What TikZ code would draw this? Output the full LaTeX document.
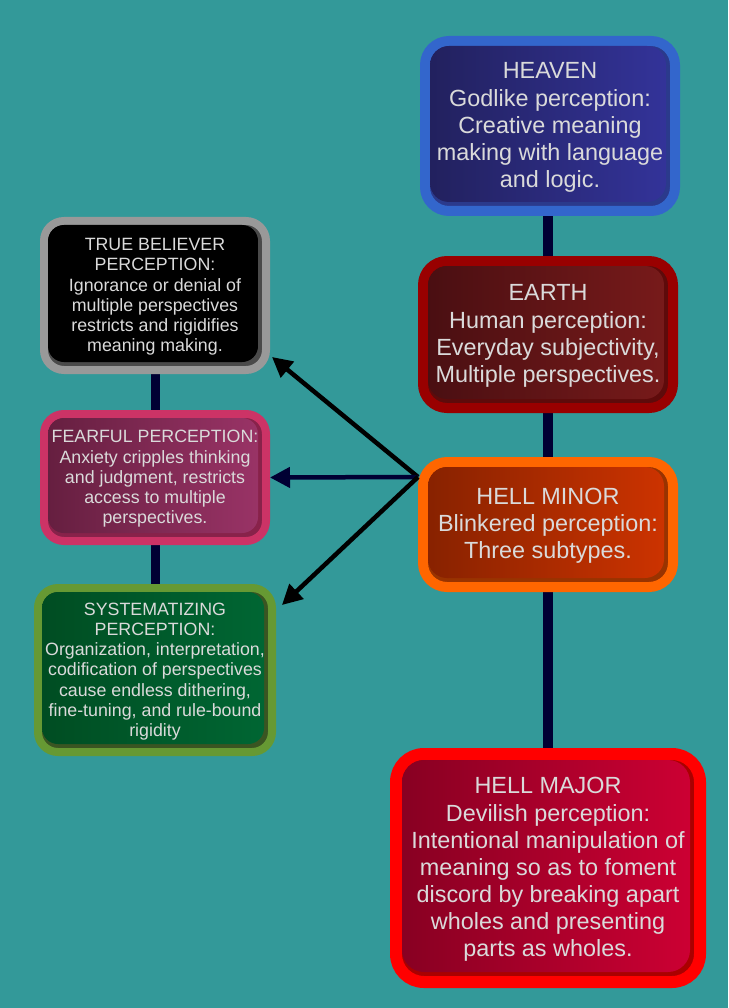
\documentclass[tikz,border=0pt]{standalone}
\usepackage{fontspec}
\setmainfont{Liberation Sans}
\usetikzlibrary{arrows.meta,calc}
\definecolor{bgteal}{HTML}{339999}
\definecolor{txt}{HTML}{DADADA}
\definecolor{navy}{HTML}{000033}
\definecolor{hvB}{HTML}{3366CC}\definecolor{hvL}{HTML}{22215E}\definecolor{hvR}{HTML}{333399}\definecolor{hvS}{HTML}{2B3A8C}
\definecolor{eaB}{HTML}{990000}\definecolor{eaL}{HTML}{4A0F12}\definecolor{eaR}{HTML}{771A1A}\definecolor{eaS}{HTML}{5E0B0B}
\definecolor{hmB}{HTML}{FF6600}\definecolor{hmL}{HTML}{882200}\definecolor{hmR}{HTML}{CC3300}\definecolor{hmS}{HTML}{993300}
\definecolor{hjB}{HTML}{FF0000}\definecolor{hjL}{HTML}{880022}\definecolor{hjR}{HTML}{CC0033}\definecolor{hjS}{HTML}{AA0000}
\definecolor{tbB}{HTML}{999999}\definecolor{tbL}{HTML}{000000}\definecolor{tbR}{HTML}{000000}\definecolor{tbS}{HTML}{4A4A4A}
\definecolor{ffB}{HTML}{CC3366}\definecolor{ffL}{HTML}{661F40}\definecolor{ffR}{HTML}{993366}\definecolor{ffS}{HTML}{88224A}
\definecolor{syB}{HTML}{669933}\definecolor{syL}{HTML}{004D22}\definecolor{syR}{HTML}{006633}\definecolor{syS}{HTML}{3A5522}
\pgfdeclarelayer{bg}
\pgfdeclarelayer{lines}
\pgfsetlayers{bg,lines,main}
% #1 name, #2 center, #3 width, #4 height, #5 line width, #6 radius, #7 colour prefix, #8 font, #9 text
\newcommand\pbox[9]{%
  \node[draw=#7B, line width=#5, fill=#7S, minimum width=#3, minimum height=#4,
        rounded corners=#6, inner sep=0pt] (#1) at #2 {};
  \node[left color=#7L, right color=#7R, minimum width=#3-#5-4, minimum height=#4-#5-4,
        rounded corners=#6-#5/2, inner sep=0pt] (#1-in) at ($#2+(-2,-2)$) {};
  \node[inner sep=0pt, text=txt, align=center, font=#8] (#1-txt) at ($#2+(0,1.5)$) {#9};
}
\begin{document}
\begin{tikzpicture}[x=1pt,y=-1pt]
\begin{pgfonlayer}{bg}
\fill[bgteal] (0,0) rectangle (728,1008);
\end{pgfonlayer}
\useasboundingbox (0,0) rectangle (728,1008);

\def\bigf{\fontsize{23.4}{27.1}\selectfont}
\def\smf{\fontsize{17.8}{20.2}\selectfont}

\pbox{heaven}{(550,126)}{250}{170}{10}{24}{hv}{\bigf}{HEAVEN\\Godlike perception:\\Creative meaning\\making with language\\and logic.}
\pbox{earth}{(548,334.5)}{250}{147}{10}{24}{ea}{\bigf}{EARTH\\Human perception:\\Everyday subjectivity,\\Multiple perspectives.}
\pbox{hellminor}{(548,524.5)}{250}{125}{10}{24}{hm}{\bigf}{HELL MINOR\\Blinkered perception:\\Three subtypes.}
\pbox{hellmajor}{(548,868)}{304}{228}{12}{28}{hj}{\bigf}{HELL MAJOR\\Devilish perception:\\Intentional manipulation of\\meaning so as to foment\\discord by breaking apart\\wholes and presenting\\parts as wholes.}
\pbox{truebel}{(155,295.5)}{222}{149}{8}{20}{tb}{\smf}{TRUE BELIEVER\\PERCEPTION:\\Ignorance or denial of\\multiple perspectives\\restricts and rigidifies\\meaning making.}
\pbox{fearful}{(155,477.5)}{222}{127}{8}{20}{ff}{\smf}{FEARFUL PERCEPTION:\\Anxiety cripples thinking\\and judgment, restricts\\access to multiple\\perspectives.}
\pbox{system}{(155,670)}{234}{164}{8}{20}{sy}{\smf}{SYSTEMATIZING\\PERCEPTION:\\Organization, interpretation,\\codification of perspectives\\cause endless dithering,\\fine-tuning, and rule-bound\\rigidity}

% connectors
\begin{pgfonlayer}{lines}
\draw[navy, line width=10] (heaven.south -| earth.north) -- (earth.north);
\draw[navy, line width=10] (earth.south) -- (hellminor.north);
\draw[navy, line width=10] (hellminor.south) -- (hellmajor.north);
\draw[navy, line width=9] (truebel.south) -- (fearful.north);
\draw[navy, line width=9] (fearful.south) -- (system.north);
\end{pgfonlayer}

\coordinate (hub) at (418,477);
\coordinate (tbend) at (272,357);
\coordinate (syend) at (282,605);
\tikzset{arr/.style={line width=4.5, -{Triangle[length=20,width=20]}}}
\draw[arr, black] (hub) -- (tbend);
\draw[arr, navy] (hub) -- (fearful.east);
\draw[arr, black] (hub) -- (syend);
\end{tikzpicture}
\end{document}
